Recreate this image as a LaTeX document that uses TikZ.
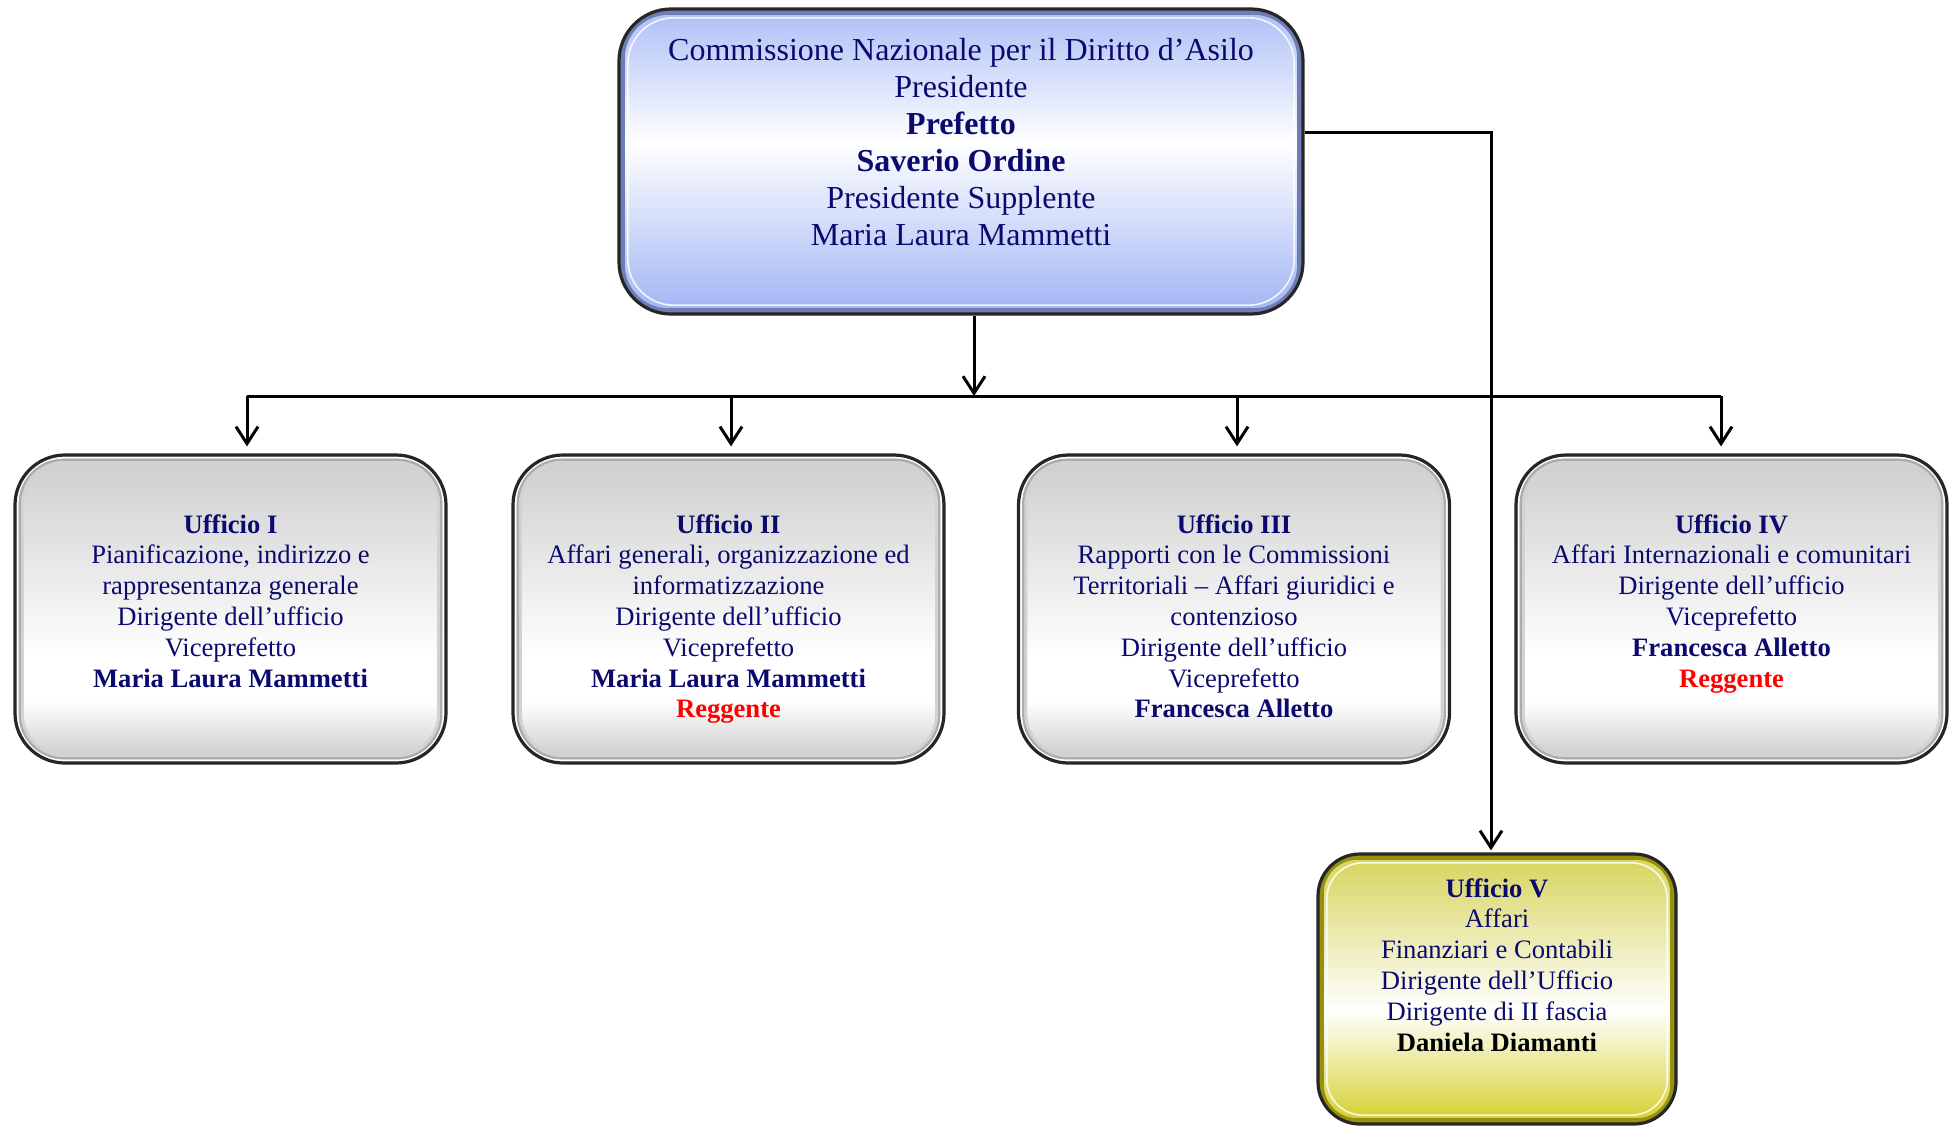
\documentclass[tikz,border=0pt]{standalone}
\usepackage{fontspec}
\setmainfont{Liberation Serif}
\usetikzlibrary{arrows.meta}
\definecolor{navy}{RGB}{10,10,110}
\definecolor{blueT}{RGB}{172,190,246}
\definecolor{blueB}{RGB}{160,180,244}
\definecolor{blueBev}{RGB}{110,125,180}
\definecolor{grayT}{RGB}{205,205,205}
\definecolor{grayB}{RGB}{200,200,200}
\definecolor{yelT}{RGB}{214,212,90}
\definecolor{yelB}{RGB}{212,206,40}
\definecolor{yelBev}{RGB}{150,145,15}
\pgfdeclareverticalshading{blueshade}{100bp}{color(0bp)=(blueB); color(25bp)=(blueB); color(53bp)=(white); color(75bp)=(blueT); color(100bp)=(blueT)}
\pgfdeclareverticalshading{grayshade}{100bp}{color(0bp)=(grayB); color(25bp)=(grayB); color(29bp)=(grayB!60); color(35bp)=(white); color(42bp)=(white); color(75bp)=(grayT); color(100bp)=(grayT)}
\pgfdeclareverticalshading{yelshade}{100bp}{color(0bp)=(yelB); color(25bp)=(yelB); color(46bp)=(white); color(75bp)=(yelT); color(100bp)=(yelT)}
\tikzset{
  cbox/.style={rectangle, draw=black!85, line width=1.6pt, inner sep=0pt},
  bevel/.style 2 args={path picture={
    \draw[rounded corners=#2, draw=#1, line width=2.6pt]
      ([shift={(1.6pt,1.6pt)}]path picture bounding box.south west) rectangle
      ([shift={(-1.6pt,-1.6pt)}]path picture bounding box.north east);
    \draw[rounded corners=#2, draw=white, line width=0.8pt, opacity=0.85]
      ([shift={(4.4pt,4.4pt)}]path picture bounding box.south west) rectangle
      ([shift={(-4.4pt,-4.4pt)}]path picture bounding box.north east);
  }},
  gbevel/.style={path picture={
    \draw[rounded corners=23pt, draw=white, line width=1.1pt]
      ([shift={(1.3pt,1.3pt)}]path picture bounding box.south west) rectangle
      ([shift={(-1.3pt,-1.3pt)}]path picture bounding box.north east);
    \draw[rounded corners=22pt, draw=gray!65, line width=1.2pt]
      ([shift={(2.4pt,2.4pt)}]path picture bounding box.south west) rectangle
      ([shift={(-2.4pt,-2.4pt)}]path picture bounding box.north east);
    \draw[rounded corners=21pt, draw=gray!35, line width=1.4pt]
      ([shift={(3.7pt,3.7pt)}]path picture bounding box.south west) rectangle
      ([shift={(-3.7pt,-3.7pt)}]path picture bounding box.north east);
  }},
  topbox/.style={cbox, shading=blueshade, rounded corners=26pt, bevel={blueBev}{23pt},
    minimum width=342pt, minimum height=152.5pt},
  ubox/.style={cbox, shading=grayshade, rounded corners=25pt, gbevel,
    minimum width=215.5pt, minimum height=154pt},
  vbox/.style={cbox, shading=yelshade, rounded corners=21pt, bevel={yelBev}{18pt},
    minimum width=179pt, minimum height=135pt},
  toptxt/.style={anchor=north, inner sep=0pt, align=center, text=navy,
    font=\fontsize{16pt}{18.45pt}\selectfont},
  utxt/.style={anchor=north, inner sep=0pt, align=center, text=navy,
    font=\fontsize{13.3pt}{15.4pt}\selectfont},
  conn/.style={line width=1.5pt, black},
  arr/.style={conn, -{Straight Barb[length=8.5pt,width=11pt,line width=1.5pt]}},
}
\begin{document}
\begin{tikzpicture}[x=0.5pt,y=-0.5pt]
\useasboundingbox (0,0) rectangle (1953,1126);

% boxes
\node[topbox] (top) at (961,161.5) {};
\node[ubox] (u1) at (230.5,609) {};
\node[ubox] (u2) at (728.5,609) {};
\node[ubox] (u3) at (1234,609) {};
\node[ubox] (u4) at (1731.5,609) {};
\node[vbox] (u5) at (1497,989) {};

% texts
\node[toptxt] (t0) at (961,38) {Commissione Nazionale per il Diritto d’Asilo\\Presidente\\\textbf{Prefetto}\\\textbf{Saverio Ordine}\\Presidente Supplente\\Maria Laura Mammetti};
\node[utxt] (t1) at (230.5,514) {\textbf{Ufficio I}\\Pianificazione, indirizzo e\\rappresentanza generale\\Dirigente dell’ufficio\\Viceprefetto\\\textbf{Maria Laura Mammetti}};
\node[utxt] (t2) at (728.5,514) {\textbf{Ufficio II}\\Affari generali, organizzazione ed\\informatizzazione\\Dirigente dell’ufficio\\Viceprefetto\\\textbf{Maria Laura Mammetti}\\\textcolor{red}{\textbf{Reggente}}};
\node[utxt] (t3) at (1234,514) {\textbf{Ufficio III}\\Rapporti con le Commissioni\\Territoriali – Affari giuridici e\\contenzioso\\Dirigente dell’ufficio\\Viceprefetto\\\textbf{Francesca Alletto}};
\node[utxt] (t4) at (1731.5,514) {\textbf{Ufficio IV}\\Affari Internazionali e comunitari\\Dirigente dell’ufficio\\Viceprefetto\\\textbf{Francesca Alletto}\\\textcolor{red}{\textbf{Reggente}}};
\node[utxt] (t5) at (1497,878) {\textbf{Ufficio V}\\Affari\\Finanziari e Contabili\\Dirigente dell’Ufficio\\Dirigente di II fascia\\\textcolor{black}{\textbf{Daniela Diamanti}}};

% connectors
\coordinate (j0) at (974,396);
\coordinate (b1) at (247,396);
\coordinate (b2) at (731,396);
\coordinate (b3) at (1237,396);
\coordinate (b4) at (1721,396);
\coordinate (rt) at (1491,132);
\draw[conn] (b1) -- (b4);
\draw[arr] (top.south -| j0) -- (j0);
\draw[arr, shorten >=3.5pt] (b1) -- (b1 |- u1.north);
\draw[arr, shorten >=3.5pt] (b2) -- (b2 |- u2.north);
\draw[arr, shorten >=3.5pt] (b3) -- (b3 |- u3.north);
\draw[arr, shorten >=3.5pt] (b4) -- (b4 |- u4.north);
\draw[arr, shorten >=1pt] (rt -| top.east) -- (rt) -- (rt |- u5.north);
\end{tikzpicture}
\end{document}
